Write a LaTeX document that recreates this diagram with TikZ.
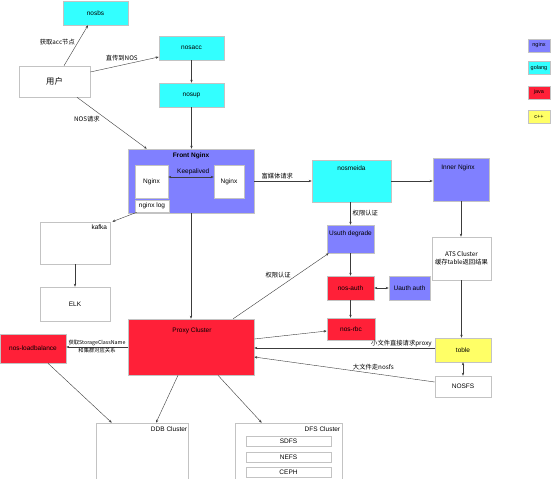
\documentclass[tikz,border=0pt]{standalone}
\usepackage{fontspec}
\setmainfont{Liberation Sans}
\newfontfamily\cjk{Noto Sans CJK SC}
\usetikzlibrary{arrows.meta,calc}
\definecolor{cngx}{RGB}{128,128,255}
\definecolor{cgo}{RGB}{51,255,255}
\definecolor{cjava}{RGB}{255,32,56}
\definecolor{ccpp}{RGB}{255,255,102}
\definecolor{bgray}{RGB}{195,195,195}
\definecolor{lgray}{RGB}{60,60,60}
\newcommand{\fsn}{\fontsize{6.5}{7.5}\selectfont}
\newcommand{\fsc}{\cjk\fontsize{6.3}{7.5}\selectfont}
\tikzset{
  box/.style={draw=bgray, line width=0.6pt, inner sep=0pt, font=\fsn},
  ngx/.style={box, fill=cngx},
  go/.style={box, fill=cgo},
  java/.style={box, fill=cjava},
  cpp/.style={box, fill=ccpp},
  wbox/.style={box, fill=white},
  title/.style={font=\fsn, inner sep=0pt},
  arr/.style={draw=lgray, line width=0.4pt, -{Stealth[length=3pt,width=2.4pt]}},
  darr/.style={draw=lgray, line width=0.4pt, {Stealth[length=3pt,width=2.4pt]}-{Stealth[length=3pt,width=2.4pt]}},
  lbl/.style={font=\fsc, inner sep=1pt},
  slbl/.style={font=\cjk\fontsize{5.3}{6}\selectfont, inner sep=1pt},
  legend/.style={box, font=\fontsize{5.5}{6}\selectfont, minimum width=22pt, minimum height=13pt}
}
\begin{document}
\begin{tikzpicture}[x=1pt,y=-1pt]
\path[use as bounding box] (0,0) rectangle (554,479);
\clip (0,0) rectangle (554,479);
\fill[white] (0,0) rectangle (554,479);

% top golang boxes and user
\node[go, minimum width=65pt, minimum height=24pt] (nosbs) at (95.5,13) {nosbs};
\node[wbox, minimum width=71pt, minimum height=31pt, font=\cjk\fontsize{8.3}{9}\selectfont] (user) at (54.5,81.5) {用户};
\node[go, minimum width=65pt, minimum height=24pt] (nosacc) at (191.5,48) {nosacc};
\node[go, minimum width=65pt, minimum height=24pt] (nosup) at (191.5,95) {nosup};

% Front Nginx
\node[ngx, minimum width=126pt, minimum height=64pt] (front) at (191,181) {};
\node[title, font=\fsn\bfseries] (frontt) at (191,156) {Front Nginx};
\node[wbox, minimum width=33pt, minimum height=33pt] (ngx1) at (151.5,181.5) {Nginx};
\node[wbox, minimum width=30pt, minimum height=33pt] (ngx2) at (229,181.5) {Nginx};
\node[wbox, minimum width=34pt, minimum height=12pt] (ngxlog) at (152,206) {nginx log};

% nosmeida, inner nginx
\node[go, minimum width=79pt, minimum height=42pt] (media) at (351.5,181) {};
\node[title] (mediat) at (351.5,168) {nosmeida};
\node[ngx, minimum width=56pt, minimum height=43pt] (inner) at (461,179.5) {};
\node[title] (innert) at (458,168) {Inner Nginx};

% auth chain
\node[ngx, minimum width=47pt, minimum height=28pt] (usuth) at (350.5,239) {};
\node[title] (usutht) at (350.5,234) {Usuth degrade};
\node[java, minimum width=47pt, minimum height=24pt] (nosauth) at (350.5,288) {nos-auth};
\node[ngx, minimum width=41pt, minimum height=24pt] (uauth) at (409.5,288) {Uauth auth};
\node[java, minimum width=48pt, minimum height=22pt] (nosrbc) at (351,329) {nos-rbc};

% proxy
\node[java, minimum width=126pt, minimum height=56pt] (proxy) at (191,347) {};
\node[title] (proxyt) at (192,331) {Proxy Cluster};

% right column
\node[wbox, minimum width=59pt, minimum height=43pt, align=center, font=\fsc] (ats) at (461.5,258.5) {ATS Cluster\\缓存table返回结果};
\node[cpp, minimum width=56pt, minimum height=24pt] (toble) at (463,350) {toble};
\node[wbox, minimum width=56pt, minimum height=21pt] (nosfs) at (463,386.5) {NOSFS};

% left side
\node[java, minimum width=66pt, minimum height=29pt] (lb) at (33,348.5) {nos-loadbalance};
\node[wbox, minimum width=70pt, minimum height=42pt] (kafka) at (75,243) {};
\node[title, anchor=north east] (kafkat) at ($(kafka.north east)+(-3,3)$) {kafka};
\node[wbox, minimum width=70pt, minimum height=34pt] (elk) at (75,304) {ELK};

% clusters at bottom
\node[wbox, minimum width=92pt, minimum height=67pt] (ddb) at (142,456.5) {};
\node[title, anchor=north east] (ddbt) at ($(ddb.north east)+(-1,4)$) {DDB Cluster};
\node[wbox, minimum width=107pt, minimum height=67pt] (dfs) at (288.5,456.5) {};
\node[title, anchor=north east] (dfst) at ($(dfs.north east)+(-2,4)$) {DFS Cluster};
\node[wbox, minimum width=85pt, minimum height=10pt] (sdfs) at (288.5,441) {SDFS};
\node[wbox, minimum width=85pt, minimum height=10pt] (nefs) at (288.5,457) {NEFS};
\node[wbox, minimum width=85pt, minimum height=10pt] (ceph) at (288.5,472) {CEPH};

% legend
\node[legend, fill=cngx] (lg1) at (539,45.5) {nginx};
\node[legend, fill=cgo] (lg2) at (539,68) {golang};
\node[legend, fill=cjava] (lg3) at (539,92.5) {java};
\node[legend, fill=ccpp] (lg4) at (539,116.5) {c++};

% connectors
\draw[arr] ($(user.north)+(9.5,0)$) -- node[lbl, pos=0.585, left=2pt] {获取acc节点} ($(nosbs.south)+(-7.5,0)$);
\draw[arr] ($(user.east)+(0,-9.5)$) -- node[lbl, pos=0.46, above=3pt] {直传到NOS} ($(nosacc.west)+(0,9)$);
\draw[arr] ($(user.south)+(22.5,0)$) -- node[lbl, pos=0.43, left=6pt] {NOS请求} ($(front.north west)+(19,0)$);
\draw[arr] (nosacc) -- (nosup);
\draw[arr] (nosup.south) -- (nosup.south |- front.north);
\draw[arr] (front.south) -- (proxy.north);
\draw[darr] ($(ngx1.east)+(0,-4.5)$) -- node[title, above=2pt, pos=0.55] {Keepalived} ($(ngx2.west)+(0,-4.5)$);
\draw[arr] (front.east) -- node[lbl, pos=0.4, above=1pt] {富媒体请求} (media.west);
\draw[arr] (media.east) -- (media.east -| inner.west);
\draw[arr] ($(ngxlog.south west)+(2,0)$) -- ($(kafka.north east)+(2,0)$);
\draw[arr] (kafka) -- (elk);
\draw[arr] (usuth.north |- media.south) -- node[lbl, right=1pt] {权限认证} (usuth.north);
\draw[arr] (usuth) -- (nosauth);
\draw[darr] (nosauth) -- (uauth);
\draw[arr] (nosauth) -- (nosauth.south |- nosrbc.north);
\draw[arr] ($(proxy.north east)+(-21,0)$) -- node[lbl, pos=0.47, above=9pt] {权限认证} ($(usuth.south west)+(2,0)$);
\draw[arr] ($(proxy.east)+(0,-8)$) -- ($(nosrbc.west)+(0,2)$);
\draw[arr] (inner.south) -- (inner.south |- ats.north);
\draw[arr] (ats.south) -- (ats.south |- toble.north);
\draw[darr] (toble) -- (nosfs);
\draw[arr] ($(toble.west)+(0,-2)$) -- node[lbl, pos=0.01, anchor=south east] {小文件直接请求proxy} ($(proxy.east)+(0,1)$);
\draw[arr] ($(nosfs.west)+(0,-4.5)$) -- node[lbl, pos=0.34, above=2pt] {大文件走nosfs} ($(proxy.east)+(0,10)$);
\draw[arr] (proxy.west) -- node[slbl, above] {获取StorageClassName} node[slbl, below] {和集群对应关系} (proxy.west -| lb.east);
\draw[arr] ($(lb.south)+(15,0)$) -- ($(ddb.north west)+(16,0)$);
\draw[arr] ($(proxy.south)+(-13,0)$) -- ($(ddb.north)+(14,0)$);
\draw[arr] ($(proxy.south)+(27,0)$) -- ($(dfs.north west)+(27,0)$);
\end{tikzpicture}
\end{document}
